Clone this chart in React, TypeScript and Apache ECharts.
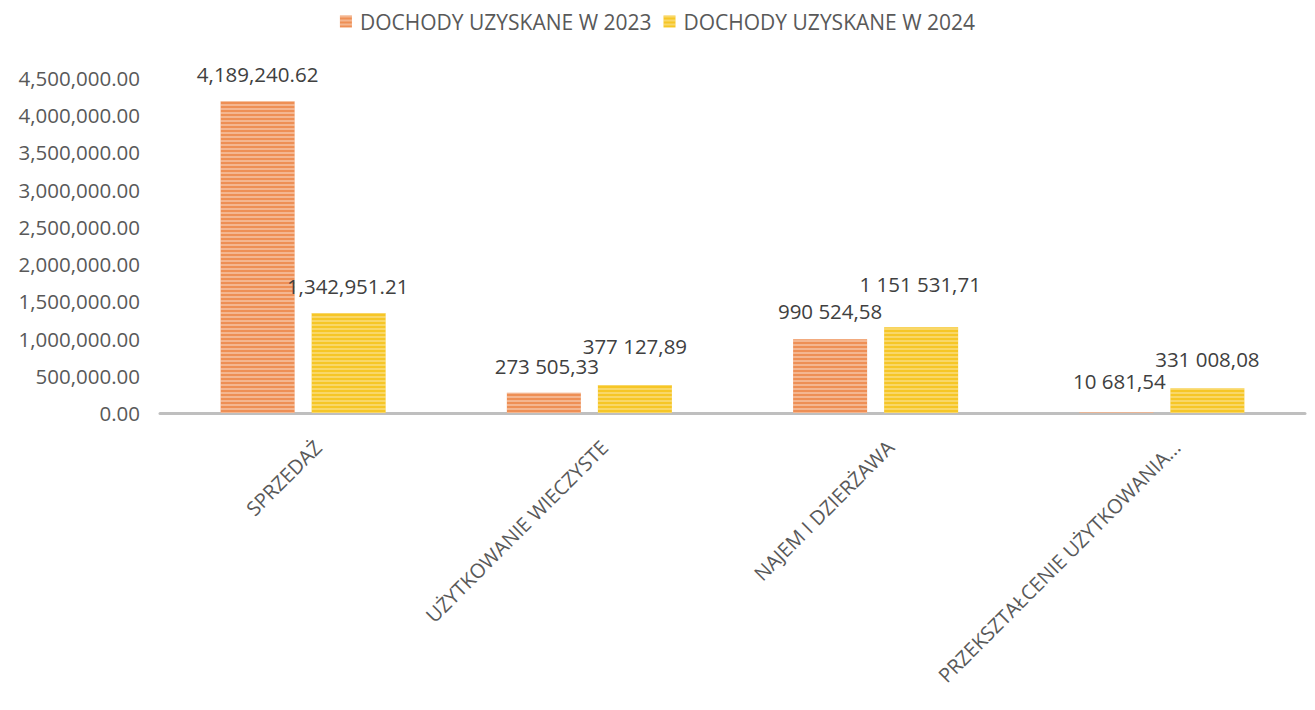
import React, { useEffect, useRef } from "react";
import * as echarts from "echarts";

const categories = [
  "SPRZEDAŻ",
  "UŻYTKOWANIE WIECZYSTE",
  "NAJEM I DZIERŻAWA",
  "PRZEKSZTAŁCENIE UŻYTKOWANIA...",
];
const seriesNames = ["DOCHODY UZYSKANE W 2023", "DOCHODY UZYSKANE W 2024"];
const values2023 = [4189240.62, 273505.33, 990524.58, 10681.54];
const values2024 = [1342951.21, 377127.89, 1151531.71, 331008.08];
const labels2023 = ["4,189,240.62", "273 505,33", "990 524,58", "10 681,54"];
const labels2024 = ["1,342,951.21", "377 127,89", "1 151 531,71", "331 008,08"];
const labelOffsets2023 = [[0, -12], [3, -11], [0, -13], [3, -16]];
const labelOffsets2024 = [[-1, -12], [0, -23], [-1, -28], [0, -14]];
const yMin = 0;
const yMax = 4500000;
const yInterval = 500000;

const FONT = "'Open Sans', 'DejaVu Sans', sans-serif";
const TEXT = "#595959";

function fmtAxis(v: number): string {
  const s = v.toFixed(2);
  const [i, d] = s.split(".");
  return i.replace(/\B(?=(\d{3})+(?!\d))/g, ",") + "." + d;
}

export default function App() {
  const ref = useRef<HTMLDivElement>(null);
  useEffect(() => {
    if (!ref.current) return;
    const chart = echarts.init(ref.current, undefined, { renderer: "svg" });
    const mkData = (vals: number[], labs: string[], offs: number[][]) =>
      vals.map((v, i) => ({
        value: v,
        label: { formatter: labs[i], offset: offs[i] },
      }));
    const labelCommon = {
      show: true,
      position: "top",
      color: "#404040",
      fontSize: 20.5,
      fontFamily: FONT,
    };
    chart.setOption({
      animation: false,
      backgroundColor: "#ffffff",
      legend: {
        top: 6,
        left: "center",
        itemWidth: 12,
        itemHeight: 12,
        itemGap: 12,
        icon: "rect",
        textStyle: { color: TEXT, fontSize: 21, fontFamily: FONT, padding: [0, 0, 0, 3] },
        data: seriesNames,
      },
      grid: { left: 160, right: 10, top: 78, bottom: 297, containLabel: false },
      xAxis: {
        type: "category",
        data: categories,
        axisLine: { show: true, lineStyle: { color: "#BFBFBF", width: 3 } },
        axisTick: { show: false },
        axisLabel: {
          rotate: 45,
          interval: 0,
          margin: 16,
          verticalAlign: "top",
          lineHeight: 42,
          color: TEXT,
          fontSize: 20,
          fontFamily: FONT,
        },
      },
      yAxis: {
        type: "value",
        min: yMin,
        max: yMax,
        interval: yInterval,
        axisLine: { show: false },
        axisTick: { show: false },
        splitLine: { show: false },
        axisLabel: {
          margin: 20,
          color: TEXT,
          fontSize: 20.5,
          fontFamily: FONT,
          formatter: (v: number) => fmtAxis(v),
        },
      },
      series: [
        {
          name: seriesNames[0],
          type: "bar",
          barWidth: 74,
          barGap: "23%",
          data: mkData(values2023, labels2023, labelOffsets2023),
          itemStyle: {
            color: "#EE8F55",
            decal: {
              symbol: "rect",
              symbolSize: 1,
              dashArrayX: [1, 0],
              dashArrayY: [2, 1.4],
              color: "rgba(255,255,255,0.35)",
            },
          },
          label: labelCommon,
        },
        {
          name: seriesNames[1],
          type: "bar",
          barWidth: 74,
          barGap: "23%",
          data: mkData(values2024, labels2024, labelOffsets2024),
          itemStyle: {
            color: "#F6C626",
            decal: {
              symbol: "rect",
              symbolSize: 1,
              dashArrayX: [1, 0],
              dashArrayY: [2, 1.4],
              color: "rgba(255,255,255,0.3)",
            },
          },
          label: labelCommon,
        },
      ],
    });
    return () => chart.dispose();
  }, []);
  return (
    <div
      ref={ref}
      style={{ position: "absolute", left: 0, top: 0, width: 1315, height: 710 }}
    />
  );
}
